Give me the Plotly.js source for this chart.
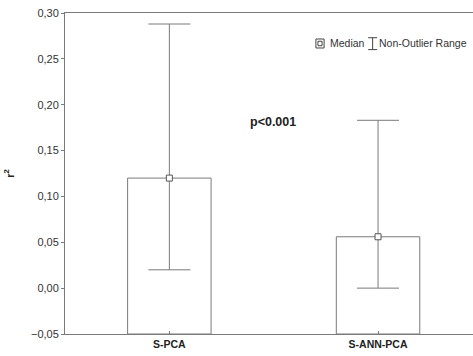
<!DOCTYPE html>
<html><head><meta charset="utf-8">
<script src="https://cdn.plot.ly/plotly-3.0.1.min.js"></script>
<style>html,body{margin:0;padding:0;background:#fff;overflow:hidden}</style>
</head><body><div id="chart" style="width:473px;height:356px"></div>
<script>
const categories = ["S-PCA", "S-ANN-PCA"];
const medians = [0.12, 0.056];
const rangeMin = [0.02, 0.0];
const rangeMax = [0.288, 0.183];
const yTicks = [-0.05, 0, 0.05, 0.10, 0.15, 0.20, 0.25, 0.30];
const baseline = -0.05;

const lineCol = "#7a7a7a";
const xIdx = categories.map((c, i) => i);

const bars = {
  type: "bar", x: xIdx, y: medians.map(m => m - baseline), base: baseline,
  width: 0.4, marker: {color: "#ffffff", line: {color: lineCol, width: 1}},
  hoverinfo: "skip", showlegend: false
};
const whiskers = {
  type: "scatter", mode: "markers", x: xIdx, y: medians,
  marker: {symbol: "square", size: 6, color: "#ffffff", line: {color: "#555", width: 1}},
  error_y: {type: "data", symmetric: false,
    array: rangeMax.map((v, i) => v - medians[i]),
    arrayminus: medians.map((m, i) => m - rangeMin[i]),
    color: lineCol, thickness: 1, width: 21},
  showlegend: false
};

const layout = {
  width: 473, height: 356,
  margin: {l: 65, r: 0, t: 13, b: 22},
  paper_bgcolor: "#fff", plot_bgcolor: "#fff",
  separators: ", ",
  font: {family: "Liberation Sans, Arial, sans-serif", size: 11, color: "#333"},
  xaxis: {
    range: [-0.5, 1.455], tickvals: xIdx, ticktext: categories.map(c => "<b>" + c + "</b>"),
    showgrid: false, zeroline: false, showline: true, linecolor: lineCol, mirror: true,
    ticks: "inside", ticklen: 3, tickcolor: lineCol, tickfont: {size: 10.5, color: "#222"}
  },
  yaxis: {
    range: [-0.05, 0.30], tickvals: yTicks, tickformat: ".2f",
    showgrid: false, zeroline: false, showline: true, linecolor: lineCol,
    ticks: "outside", ticklen: 3, tickcolor: lineCol, tickfont: {size: 11, color: "#333"},
    title: {text: "<b>r<sup>2</sup></b>", font: {size: 11, color: "#222"}, standoff: 14}
  },
  annotations: [
    {xref: "paper", yref: "paper", x: 0.51, y: 0.66, text: "<b>p<0.001</b>", showarrow: false,
     font: {size: 12.5, color: "#222"}, xanchor: "center", yanchor: "middle"},
    {xref: "paper", yref: "paper", x: 0.645, y: 0.905, text: "Median", showarrow: false,
     font: {size: 10.5, color: "#333"}, xanchor: "left", yanchor: "middle"},
    {xref: "paper", yref: "paper", x: 0.765, y: 0.905, text: "Non-Outlier Range", showarrow: false,
     font: {size: 10.5, color: "#333"}, xanchor: "left", yanchor: "middle"}
  ],
  shapes: [
    {type: "rect", xref: "paper", yref: "paper", x0: 0.615, x1: 0.635, y0: 0.891, y1: 0.919,
     line: {color: "#444", width: 1}, fillcolor: "#fff"},
    {type: "rect", xref: "paper", yref: "paper", x0: 0.62, x1: 0.63, y0: 0.898, y1: 0.912,
     line: {color: "#444", width: 1}, fillcolor: "#fff"},
    {type: "line", xref: "paper", yref: "paper", x0: 0.743, x1: 0.765, y0: 0.923, y1: 0.923, line: {color: "#444", width: 1}},
    {type: "line", xref: "paper", yref: "paper", x0: 0.743, x1: 0.765, y0: 0.886, y1: 0.886, line: {color: "#444", width: 1}},
    {type: "line", xref: "paper", yref: "paper", x0: 0.754, x1: 0.754, y0: 0.886, y1: 0.923, line: {color: "#444", width: 1}}
  ]
};

Plotly.newPlot("chart", [bars, whiskers], layout, {displayModeBar: false, staticPlot: true});
</script></body></html>
